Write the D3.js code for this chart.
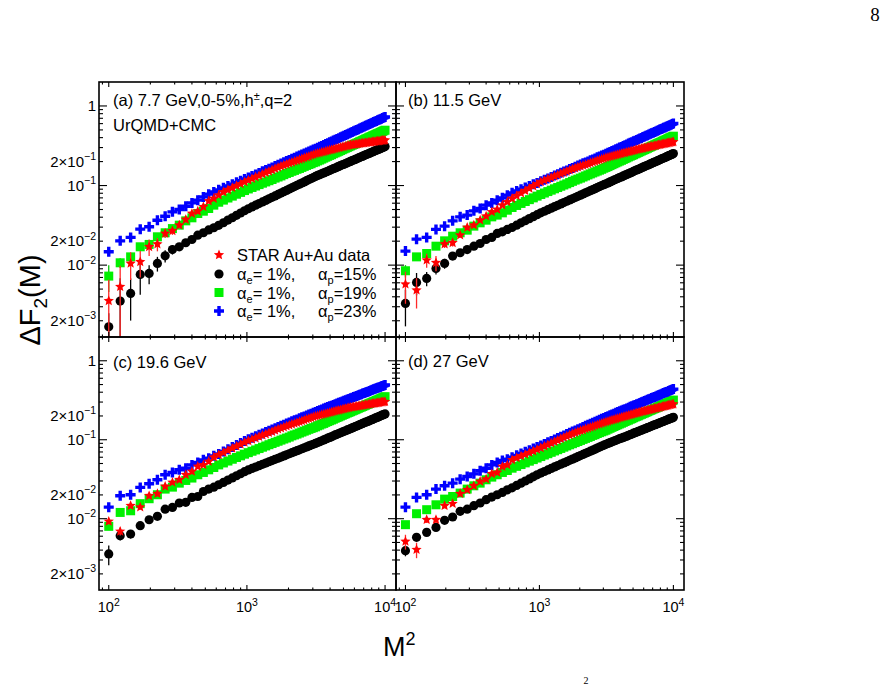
<!DOCTYPE html>
<html>
<head>
<meta charset="utf-8">
<script src="https://cdnjs.cloudflare.com/ajax/libs/d3/7.8.5/d3.min.js"></script>
<style>
  body { margin: 0; background: #fff; }
  svg { display: block; font-family: "Liberation Sans", Arial, Helvetica, sans-serif; }
</style>
</head>
<body>
<div id="chart-area"></div>
<script>
// One point per multiplicity bin M = 10..100, plotted against M^2
const mValues = d3.range(10, 101);

// ---- (a) 7.7 GeV ----
const starA = [
  0.00356, 0.00535, 0.0105, 0.0110, 0.0170, 0.0184, 0.025, 0.027, 0.0318, 0.0374,
  0.0445, 0.0476, 0.054, 0.064, 0.0687, 0.0757, 0.083, 0.0885, 0.0938, 0.0995,
  0.105, 0.111, 0.117, 0.122, 0.128, 0.133, 0.139, 0.145, 0.151, 0.157,
  0.163, 0.169, 0.175, 0.180, 0.185, 0.191, 0.196, 0.201, 0.206, 0.212,
  0.217, 0.222, 0.228, 0.233, 0.239, 0.244, 0.250, 0.254, 0.258, 0.262,
  0.265, 0.270, 0.274, 0.278, 0.281, 0.285, 0.289, 0.293, 0.297, 0.301,
  0.305, 0.308, 0.313, 0.316, 0.320, 0.324, 0.326, 0.327, 0.330, 0.332,
  0.333, 0.336, 0.338, 0.340, 0.342, 0.344, 0.346, 0.348, 0.349, 0.352,
  0.353, 0.355, 0.357, 0.359, 0.361, 0.362, 0.365, 0.366, 0.368, 0.370,
  0.372];
const p15A = [
  0.00168, 0.00353, 0.00441, 0.00764, 0.00787, 0.0105, 0.0131, 0.0157, 0.0170, 0.0191,
  0.0210, 0.0238, 0.0255, 0.0277, 0.0295, 0.0316, 0.0341, 0.0368, 0.0394, 0.0423,
  0.0452, 0.0482, 0.0511, 0.0538, 0.0566, 0.0593, 0.0622, 0.065, 0.0681, 0.0711,
  0.0741, 0.0773, 0.0804, 0.0838, 0.0869, 0.0902, 0.0938, 0.097, 0.1005, 0.104,
  0.1076, 0.111, 0.115, 0.119, 0.1225, 0.126, 0.130, 0.134, 0.137, 0.141,
  0.144, 0.148, 0.151, 0.155, 0.159, 0.163, 0.166, 0.170, 0.174, 0.178,
  0.182, 0.185, 0.189, 0.193, 0.197, 0.201, 0.206, 0.209, 0.213, 0.217,
  0.222, 0.226, 0.230, 0.234, 0.238, 0.243, 0.247, 0.251, 0.255, 0.260,
  0.264, 0.269, 0.273, 0.277, 0.282, 0.286, 0.291, 0.296, 0.300, 0.304,
  0.309];
const p19A = [
  0.00728, 0.0107, 0.0127, 0.0170, 0.0182, 0.0227, 0.0255, 0.0288, 0.0318, 0.036,
  0.0393, 0.0445, 0.0476, 0.0515, 0.0567, 0.0617, 0.0656, 0.0697, 0.0736, 0.0778,
  0.082, 0.0865, 0.0906, 0.0946, 0.0986, 0.1028, 0.107, 0.111, 0.115, 0.119,
  0.124, 0.128, 0.132, 0.137, 0.142, 0.146, 0.151, 0.155, 0.160, 0.164,
  0.169, 0.174, 0.179, 0.184, 0.188, 0.194, 0.198, 0.204, 0.209, 0.215,
  0.221, 0.227, 0.233, 0.239, 0.244, 0.251, 0.257, 0.263, 0.269, 0.276,
  0.282, 0.289, 0.295, 0.301, 0.308, 0.315, 0.321, 0.328, 0.335, 0.341,
  0.348, 0.356, 0.362, 0.369, 0.377, 0.384, 0.391, 0.398, 0.406, 0.412,
  0.420, 0.427, 0.435, 0.442, 0.449, 0.456, 0.465, 0.472, 0.480, 0.488,
  0.496];
const p23A = [
  0.0147, 0.0202, 0.0223, 0.0283, 0.0303, 0.0367, 0.0412, 0.0467, 0.050, 0.055,
  0.0605, 0.0655, 0.072, 0.078, 0.083, 0.0883, 0.0935, 0.0989, 0.104, 0.1096,
  0.115, 0.121, 0.126, 0.132, 0.138, 0.144, 0.151, 0.157, 0.163, 0.169,
  0.176, 0.183, 0.189, 0.196, 0.203, 0.209, 0.217, 0.223, 0.231, 0.238,
  0.245, 0.252, 0.260, 0.267, 0.275, 0.283, 0.290, 0.299, 0.307, 0.315,
  0.323, 0.332, 0.340, 0.349, 0.358, 0.367, 0.376, 0.385, 0.394, 0.404,
  0.413, 0.423, 0.433, 0.442, 0.451, 0.460, 0.471, 0.481, 0.490, 0.500,
  0.511, 0.521, 0.531, 0.541, 0.552, 0.562, 0.573, 0.583, 0.594, 0.605,
  0.615, 0.627, 0.638, 0.649, 0.659, 0.670, 0.682, 0.693, 0.705, 0.716,
  0.728];
// errors are only visible on the lowest-M bins
const starErrA = [0.003, 0.0045, 0.004, 0.004, 0.004, 0.0035, 0.003, 0.003, 0.003, 0.003, 0.003, 0.003, 0.003, 0.003];
const p15ErrA = [0.0008, 0.0033, 0.0024, 0.0034, 0.0021, 0.0022, 0.0023, 0.0021, 0.002, 0.002, 0.002, 0.002, 0.002];
const p19ErrA = [0.0027, 0.0015, 0.0012, 0.001, 0.001];

// ---- (b) 11.5 GeV ----
const starB = [
  0.00577, 0.00485, 0.01155, 0.0107, 0.0184, 0.0191, 0.0238, 0.0297, 0.0318, 0.0367,
  0.0412, 0.0467, 0.050, 0.0567, 0.0623, 0.0687, 0.0743, 0.0802, 0.0861, 0.0923,
  0.0986, 0.105, 0.111, 0.116, 0.121, 0.126, 0.131, 0.1355, 0.141, 0.146,
  0.151, 0.156, 0.161, 0.166, 0.170, 0.175, 0.179, 0.183, 0.1875, 0.192,
  0.197, 0.201, 0.206, 0.210, 0.215, 0.219, 0.224, 0.2275, 0.231, 0.234,
  0.238, 0.2415, 0.245, 0.248, 0.251, 0.255, 0.258, 0.262, 0.265, 0.2685,
  0.272, 0.275, 0.279, 0.282, 0.285, 0.288, 0.291, 0.294, 0.2965, 0.299,
  0.302, 0.305, 0.308, 0.310, 0.313, 0.315, 0.318, 0.321, 0.324, 0.326,
  0.328, 0.331, 0.333, 0.336, 0.338, 0.340, 0.344, 0.346, 0.348, 0.351,
  0.353];
const p15B = [
  0.0033, 0.00607, 0.00681, 0.0091, 0.0105, 0.0130, 0.0143, 0.0157, 0.0173, 0.0187,
  0.0210, 0.0223, 0.0250, 0.0262, 0.0281, 0.0297, 0.0318, 0.0340, 0.0361, 0.0384,
  0.0406, 0.0431, 0.0454, 0.0475, 0.0497, 0.0519, 0.0542, 0.0564, 0.0588, 0.0611,
  0.0635, 0.0659, 0.0682, 0.0708, 0.0733, 0.0757, 0.0783, 0.0809, 0.0834, 0.0861,
  0.0887, 0.0914, 0.0942, 0.097, 0.0998, 0.1026, 0.105, 0.108, 0.111, 0.114,
  0.117, 0.120, 0.123, 0.126, 0.1285, 0.132, 0.135, 0.138, 0.141, 0.144,
  0.147, 0.151, 0.154, 0.157, 0.160, 0.163, 0.167, 0.170, 0.173, 0.177,
  0.180, 0.183, 0.187, 0.190, 0.194, 0.197, 0.200, 0.204, 0.2075, 0.211,
  0.215, 0.218, 0.222, 0.225, 0.229, 0.233, 0.237, 0.240, 0.244, 0.248,
  0.252];
const p19B = [
  0.0085, 0.0127, 0.0140, 0.0173, 0.0202, 0.0231, 0.0255, 0.0275, 0.0309, 0.034,
  0.0367, 0.0404, 0.0425, 0.0454, 0.049, 0.053, 0.0562, 0.0596, 0.063, 0.0665,
  0.070, 0.0736, 0.0771, 0.0805, 0.084, 0.0875, 0.091, 0.0944, 0.098, 0.1016,
  0.105, 0.109, 0.113, 0.117, 0.1205, 0.124, 0.128, 0.132, 0.136, 0.140,
  0.144, 0.148, 0.152, 0.156, 0.160, 0.165, 0.169, 0.173, 0.178, 0.183,
  0.188, 0.193, 0.198, 0.203, 0.2075, 0.213, 0.218, 0.223, 0.229, 0.234,
  0.239, 0.244, 0.250, 0.255, 0.261, 0.266, 0.272, 0.277, 0.283, 0.288,
  0.294, 0.300, 0.306, 0.312, 0.318, 0.324, 0.330, 0.336, 0.341, 0.348,
  0.353, 0.360, 0.366, 0.372, 0.378, 0.385, 0.392, 0.398, 0.404, 0.410,
  0.417];
const p23B = [
  0.0150, 0.0212, 0.0223, 0.0281, 0.0309, 0.0360, 0.0404, 0.0425, 0.0481, 0.0515,
  0.0567, 0.0605, 0.0655, 0.070, 0.0757, 0.081, 0.0853, 0.0897, 0.0942, 0.0989,
  0.1035, 0.108, 0.113, 0.118, 0.123, 0.1285, 0.134, 0.139, 0.1445, 0.150,
  0.155, 0.161, 0.166, 0.172, 0.178, 0.184, 0.190, 0.195, 0.201, 0.2075,
  0.213, 0.219, 0.226, 0.232, 0.238, 0.244, 0.251, 0.258, 0.264, 0.272,
  0.278, 0.286, 0.292, 0.300, 0.306, 0.314, 0.321, 0.329, 0.337, 0.344,
  0.351, 0.359, 0.366, 0.374, 0.381, 0.389, 0.397, 0.406, 0.413, 0.421,
  0.430, 0.4375, 0.446, 0.454, 0.462, 0.471, 0.479, 0.488, 0.496, 0.505,
  0.513, 0.521, 0.531, 0.538, 0.547, 0.556, 0.566, 0.574, 0.582, 0.592,
  0.601];
const starErrB = [0.0025, 0.002, 0.0023, 0.0023, 0.002, 0.002, 0.0015, 0.0015];
const p15ErrB = [0.0016, 0.0019, 0.0014, 0.0015, 0.0015, 0.001, 0.001];
const p19ErrB = [0.0015, 0.001];

// ---- (c) 19.6 GeV ----
const starC = [
  0.00925, 0.00691, 0.0146, 0.0140, 0.0195, 0.0207, 0.0256, 0.0288, 0.0311, 0.036,
  0.0396, 0.0458, 0.048, 0.053, 0.060, 0.0644, 0.0687, 0.0733, 0.0778, 0.0826,
  0.0873, 0.0925, 0.097, 0.101, 0.105, 0.1096, 0.114, 0.118, 0.1227, 0.127,
  0.1315, 0.136, 0.140, 0.1445, 0.1486, 0.153, 0.157, 0.161, 0.165, 0.169,
  0.173, 0.177, 0.182, 0.186, 0.190, 0.1945, 0.199, 0.202, 0.205, 0.208,
  0.211, 0.214, 0.217, 0.221, 0.223, 0.2265, 0.230, 0.233, 0.236, 0.239,
  0.242, 0.245, 0.248, 0.251, 0.254, 0.257, 0.259, 0.261, 0.263, 0.265,
  0.267, 0.2685, 0.270, 0.272, 0.274, 0.276, 0.278, 0.280, 0.282, 0.284,
  0.286, 0.288, 0.289, 0.291, 0.292, 0.294, 0.2965, 0.2985, 0.300, 0.301,
  0.303];
const p15C = [
  0.00358, 0.0061, 0.0064, 0.00816, 0.0097, 0.0107, 0.0132, 0.0139, 0.0158, 0.0161,
  0.0186, 0.0191, 0.0221, 0.0237, 0.0251, 0.0269, 0.0288, 0.0308, 0.0328, 0.035,
  0.0371, 0.0394, 0.0414, 0.0433, 0.0451, 0.0469, 0.0488, 0.0506, 0.0526, 0.0545,
  0.0564, 0.0583, 0.0603, 0.0624, 0.0644, 0.0664, 0.0686, 0.0705, 0.0726, 0.0746,
  0.0769, 0.0789, 0.0811, 0.0834, 0.0855, 0.0877, 0.0897, 0.0923, 0.0946, 0.097,
  0.0993, 0.102, 0.1045, 0.107, 0.109, 0.112, 0.115, 0.117, 0.120, 0.1225,
  0.125, 0.128, 0.130, 0.133, 0.1355, 0.138, 0.141, 0.144, 0.1466, 0.149,
  0.152, 0.155, 0.158, 0.161, 0.164, 0.167, 0.169, 0.172, 0.175, 0.178,
  0.181, 0.184, 0.1875, 0.190, 0.193, 0.196, 0.1995, 0.203, 0.206, 0.208,
  0.212];
const p19C = [
  0.0080, 0.0120, 0.0126, 0.0155, 0.0179, 0.0201, 0.0237, 0.0251, 0.0282, 0.0305,
  0.0327, 0.036, 0.0385, 0.0416, 0.0445, 0.048, 0.0508, 0.0537, 0.0566, 0.0596,
  0.0625, 0.0656, 0.0686, 0.0715, 0.0743, 0.0773, 0.0804, 0.0834, 0.0865, 0.0895,
  0.0927, 0.0957, 0.0989, 0.102, 0.105, 0.108, 0.112, 0.115, 0.118, 0.1216,
  0.125, 0.1285, 0.132, 0.1355, 0.139, 0.142, 0.1455, 0.150, 0.1535, 0.158,
  0.161, 0.166, 0.170, 0.174, 0.178, 0.182, 0.187, 0.191, 0.195, 0.200,
  0.204, 0.209, 0.213, 0.218, 0.222, 0.2265, 0.231, 0.236, 0.240, 0.245,
  0.250, 0.255, 0.259, 0.264, 0.269, 0.274, 0.279, 0.284, 0.289, 0.294,
  0.2985, 0.304, 0.309, 0.314, 0.319, 0.324, 0.330, 0.335, 0.340, 0.345,
  0.351];
const p23C = [
  0.0140, 0.0195, 0.0201, 0.0249, 0.0277, 0.0311, 0.036, 0.0385, 0.0416, 0.0436,
  0.048, 0.0514, 0.0556, 0.0584, 0.0625, 0.0662, 0.071, 0.0759, 0.0807, 0.0859,
  0.0912, 0.0966, 0.1016, 0.106, 0.111, 0.116, 0.120, 0.125, 0.130, 0.135,
  0.140, 0.145, 0.150, 0.155, 0.160, 0.165, 0.171, 0.176, 0.181, 0.187,
  0.192, 0.197, 0.203, 0.209, 0.214, 0.220, 0.225, 0.231, 0.237, 0.242,
  0.248, 0.2535, 0.259, 0.265, 0.270, 0.276, 0.282, 0.287, 0.293, 0.299,
  0.305, 0.311, 0.317, 0.323, 0.328, 0.334, 0.340, 0.347, 0.352, 0.359,
  0.365, 0.3715, 0.378, 0.384, 0.390, 0.396, 0.403, 0.408, 0.415, 0.422,
  0.428, 0.4345, 0.442, 0.448, 0.454, 0.460, 0.467, 0.474, 0.480, 0.486,
  0.493];
const starErrC = [0.0008, 0.0008, 0.001, 0.001, 0.001, 0.001];
const p15ErrC = [0.001, 0.0008, 0.0008, 0.0008];
const p19ErrC = [0.0006];

// ---- (d) 27 GeV ----
const starD = [
  0.00516, 0.00406, 0.0097, 0.0097, 0.0146, 0.0155, 0.0207, 0.0232, 0.0261, 0.0296,
  0.0317, 0.037, 0.0385, 0.0458, 0.048, 0.0556, 0.0588, 0.0621, 0.0653, 0.0687,
  0.0719, 0.0755, 0.0791, 0.0828, 0.0867, 0.0906, 0.0946, 0.0984, 0.103, 0.107,
  0.111, 0.115, 0.119, 0.123, 0.1265, 0.130, 0.133, 0.137, 0.140, 0.1435,
  0.147, 0.151, 0.154, 0.158, 0.161, 0.165, 0.168, 0.171, 0.174, 0.1774,
  0.180, 0.183, 0.186, 0.189, 0.192, 0.195, 0.198, 0.200, 0.204, 0.2065,
  0.209, 0.212, 0.215, 0.218, 0.221, 0.224, 0.2265, 0.2286, 0.231, 0.233,
  0.2355, 0.238, 0.240, 0.243, 0.2455, 0.248, 0.250, 0.252, 0.255, 0.257,
  0.259, 0.262, 0.264, 0.267, 0.2685, 0.271, 0.2735, 0.276, 0.278, 0.280,
  0.2825];
const p15D = [
  0.00394, 0.00581, 0.00671, 0.00776, 0.00953, 0.0105, 0.0124, 0.0132, 0.0146, 0.0158,
  0.0174, 0.0188, 0.0201, 0.0215, 0.0232, 0.0246, 0.0264, 0.0282, 0.030, 0.0319,
  0.0339, 0.0359, 0.0378, 0.0396, 0.0414, 0.0433, 0.0452, 0.047, 0.049, 0.0508,
  0.0528, 0.0548, 0.0568, 0.0589, 0.061, 0.063, 0.0652, 0.0673, 0.0693, 0.0716,
  0.0738, 0.076, 0.0783, 0.0807, 0.083, 0.0853, 0.0875, 0.0897, 0.0918, 0.094,
  0.0962, 0.0984, 0.1005, 0.103, 0.1047, 0.107, 0.109, 0.111, 0.114, 0.116,
  0.118, 0.121, 0.123, 0.125, 0.1276, 0.130, 0.132, 0.1346, 0.137, 0.139,
  0.142, 0.144, 0.1466, 0.149, 0.152, 0.154, 0.156, 0.159, 0.161, 0.164,
  0.166, 0.169, 0.171, 0.174, 0.1766, 0.179, 0.182, 0.184, 0.1866, 0.189,
  0.192];
const p19D = [
  0.0084, 0.01156, 0.0130, 0.0150, 0.0177, 0.0191, 0.0211, 0.0237, 0.0261, 0.0282,
  0.0311, 0.0336, 0.036, 0.0385, 0.0408, 0.0436, 0.046, 0.0485, 0.0509, 0.0535,
  0.056, 0.0586, 0.0612, 0.064, 0.0665, 0.0693, 0.0721, 0.0748, 0.0776, 0.0805,
  0.0834, 0.0863, 0.0891, 0.092, 0.095, 0.098, 0.101, 0.104, 0.107, 0.110,
  0.1135, 0.116, 0.120, 0.123, 0.126, 0.129, 0.132, 0.136, 0.1396, 0.1435,
  0.147, 0.151, 0.1545, 0.1585, 0.162, 0.166, 0.170, 0.174, 0.1774, 0.182,
  0.185, 0.190, 0.194, 0.198, 0.201, 0.206, 0.210, 0.214, 0.218, 0.222,
  0.2265, 0.231, 0.2355, 0.239, 0.244, 0.248, 0.252, 0.257, 0.261, 0.266,
  0.270, 0.275, 0.280, 0.284, 0.288, 0.293, 0.2985, 0.303, 0.307, 0.312,
  0.318];
const p23D = [
  0.0140, 0.0186, 0.0201, 0.0237, 0.0261, 0.0282, 0.0317, 0.0342, 0.037, 0.0404,
  0.0436, 0.048, 0.0514, 0.0546, 0.0568, 0.060, 0.0634, 0.0668, 0.0703, 0.0738,
  0.0773, 0.0809, 0.0845, 0.0885, 0.0927, 0.0966, 0.101, 0.105, 0.109, 0.1135,
  0.118, 0.1225, 0.127, 0.131, 0.136, 0.140, 0.145, 0.150, 0.1545, 0.159,
  0.164, 0.169, 0.174, 0.179, 0.184, 0.189, 0.194, 0.199, 0.204, 0.209,
  0.214, 0.219, 0.224, 0.229, 0.234, 0.239, 0.244, 0.2495, 0.255, 0.261,
  0.2655, 0.271, 0.276, 0.282, 0.286, 0.292, 0.298, 0.303, 0.309, 0.314,
  0.320, 0.326, 0.331, 0.3365, 0.343, 0.348, 0.354, 0.360, 0.366, 0.3715,
  0.378, 0.384, 0.390, 0.395, 0.401, 0.406, 0.413, 0.420, 0.425, 0.4315,
  0.4375];
const starErrD = [0.0011, 0.0009, 0.0009, 0.0009, 0.001, 0.001];
const p15ErrD = [0.0006, 0.0005];

// axis tick labels
const yTickLabels = [
  {v: 1, base: "1", exp: ""},
  {v: 0.2, base: "2\u00d710", exp: "\u22121"},
  {v: 0.1, base: "10", exp: "\u22121"},
  {v: 0.02, base: "2\u00d710", exp: "\u22122"},
  {v: 0.01, base: "10", exp: "\u22122"},
  {v: 0.002, base: "2\u00d710", exp: "\u22123"}
];
const xTickLabels = [{v: 100, exp: "2"}, {v: 1000, exp: "3"}, {v: 10000, exp: "4"}];

let width = 886, height = 689;
let xDomain = [85, 12000];
let yDomain = [1.25e-3, 2];

let svg = d3.select("#chart-area").append("svg")
    .attr("width", width)
    .attr("height", height);

// marker shapes (ROOT-like)
function starPath(r) {
    let pts = [];
    for (let k = 0; k < 10; k++) {
        let a = -Math.PI / 2 + k * Math.PI / 5;
        let rr = k % 2 === 0 ? r : r * 0.45;
        pts.push([rr * Math.cos(a), rr * Math.sin(a)]);
    }
    return "M" + pts.map(p => p[0].toFixed(2) + "," + p[1].toFixed(2)).join("L") + "Z";
}
function crossPath(s, w) {
    return `M${-w},${-s}H${w}V${-w}H${s}V${w}H${w}V${s}H${-w}V${w}H${-s}V${-w}H${-w}Z`;
}
const shapes = {
    circle: d3.symbol().type(d3.symbolCircle).size(Math.PI * 4.6 * 4.6)(),
    square: "M-4.5,-4.5H4.5V4.5H-4.5Z",
    cross: crossPath(5, 1.7),
    star: starPath(5.4)
};

function makeSeries(star, p15, p19, p23, starErr, p15Err, p19Err) {
    return [
        {values: p15, err: p15Err, shape: shapes.circle, color: "#000", errColor: "#000"},
        {values: p19, err: p19Err, shape: shapes.square, color: "#00f000", errColor: "#00c000"},
        {values: p23, err: [], shape: shapes.cross, color: "#0000ff", errColor: "#0000ff"},
        {values: star, err: starErr, shape: shapes.star, color: "#ff0000", errColor: "#ff2a2a"}
    ];
}

const cols = [{x0: 99, x1: 396}, {x0: 396, x1: 684}];
const rows = [{y0: 82, y1: 337}, {y0: 337, y1: 590}];

const panels = [
    {col: 0, row: 0, series: makeSeries(starA, p15A, p19A, p23A, starErrA, p15ErrA, p19ErrA)},
    {col: 1, row: 0, series: makeSeries(starB, p15B, p19B, p23B, starErrB, p15ErrB, p19ErrB)},
    {col: 0, row: 1, series: makeSeries(starC, p15C, p19C, p23C, starErrC, p15ErrC, p19ErrC)},
    {col: 1, row: 1, series: makeSeries(starD, p15D, p19D, p23D, starErrD, p15ErrD, [])}
];

panels.forEach((p, i) => {
    let c = cols[p.col], r = rows[p.row];
    let x = d3.scaleLog().domain(xDomain).range([c.x0, c.x1]);
    let y = d3.scaleLog().domain(yDomain).range([r.y1, r.y0]);

    svg.append("clipPath").attr("id", "clip" + i)
        .append("rect")
        .attr("x", c.x0).attr("y", r.y0)
        .attr("width", c.x1 - c.x0).attr("height", r.y1 - r.y0);

    let plot = svg.append("g").attr("clip-path", "url(#clip" + i + ")");

    p.series.forEach(s => {
        plot.selectAll(null)
            .data(s.err)
            .enter()
            .append("line")
            .attr("x1", (e, j) => x(mValues[j] * mValues[j]))
            .attr("x2", (e, j) => x(mValues[j] * mValues[j]))
            .attr("y1", (e, j) => y(Math.max(s.values[j] - e, 1e-5)))
            .attr("y2", (e, j) => y(s.values[j] + e))
            .attr("stroke", s.errColor)
            .attr("stroke-width", 1.3);

        plot.selectAll(null)
            .data(s.values)
            .enter()
            .append("path")
            .attr("d", s.shape)
            .attr("transform", (v, j) => "translate(" + x(mValues[j] * mValues[j]) + "," + y(v) + ")")
            .attr("fill", s.color);
    });

    // ticks on all four sides
    let ticks = svg.append("g").attr("stroke", "#000").attr("stroke-width", 1.1);
    let yMajor = [0.01, 0.1, 1];
    let yMinor = [];
    [0.001, 0.01, 0.1, 1].forEach(d => {
        for (let k = 2; k <= 9; k++) {
            let v = k * d;
            if (v > yDomain[0] && v < yDomain[1]) yMinor.push(v);
        }
    });
    yMajor.forEach(v => {
        ticks.append("line").attr("x1", c.x0).attr("x2", c.x0 + 8).attr("y1", y(v)).attr("y2", y(v));
        ticks.append("line").attr("x1", c.x1).attr("x2", c.x1 - 8).attr("y1", y(v)).attr("y2", y(v));
    });
    yMinor.forEach(v => {
        ticks.append("line").attr("x1", c.x0).attr("x2", c.x0 + 4).attr("y1", y(v)).attr("y2", y(v));
        ticks.append("line").attr("x1", c.x1).attr("x2", c.x1 - 4).attr("y1", y(v)).attr("y2", y(v));
    });
    let xMajor = [100, 1000, 10000];
    let xMinor = [];
    [10, 100, 1000].forEach(d => {
        for (let k = 2; k <= 9; k++) {
            let v = k * d;
            if (v > xDomain[0] && v < xDomain[1]) xMinor.push(v);
        }
    });
    xMajor.forEach(v => {
        ticks.append("line").attr("x1", x(v)).attr("x2", x(v)).attr("y1", r.y1).attr("y2", r.y1 - 5);
        ticks.append("line").attr("x1", x(v)).attr("x2", x(v)).attr("y1", r.y0).attr("y2", r.y0 + 5);
    });
    xMinor.forEach(v => {
        ticks.append("line").attr("x1", x(v)).attr("x2", x(v)).attr("y1", r.y1).attr("y2", r.y1 - 2.5);
        ticks.append("line").attr("x1", x(v)).attr("x2", x(v)).attr("y1", r.y0).attr("y2", r.y0 + 2.5);
    });

    // frame
    svg.append("rect")
        .attr("x", c.x0).attr("y", r.y0)
        .attr("width", c.x1 - c.x0).attr("height", r.y1 - r.y0)
        .attr("fill", "none")
        .attr("stroke", "#000")
        .attr("stroke-width", 1.6);

    // y tick labels on the left column only
    if (p.col === 0) {
        yTickLabels.forEach(t => {
            let txt = svg.append("text")
                .attr("x", 96)
                .attr("y", y(t.v) + 5)
                .attr("text-anchor", "end")
                .style("font-size", "15px")
                .text(t.base);
            if (t.exp) {
                txt.append("tspan").attr("dy", -6.5).style("font-size", "10.5px").text(t.exp);
            }
        });
    }
    // x tick labels on the bottom row only
    if (p.row === 1) {
        xTickLabels.forEach(t => {
            let txt = svg.append("text")
                .attr("x", x(t.v))
                .attr("y", 612)
                .attr("text-anchor", "middle")
                .style("font-size", "14.5px")
                .text("10");
            txt.append("tspan").attr("dy", -6.5).style("font-size", "10.5px").text(t.exp);
        });
    }
});

// panel labels
let lab = svg.append("text").attr("x", 113).attr("y", 106).style("font-size", "16.5px")
    .text("(a) 7.7 GeV,0-5%,h");
lab.append("tspan").attr("dy", -6).style("font-size", "11px").text("\u00b1");
lab.append("tspan").attr("dy", 6).text(",q=2");
svg.append("text").attr("x", 113).attr("y", 131).style("font-size", "16.5px").text("UrQMD+CMC");
svg.append("text").attr("x", 408).attr("y", 105.5).style("font-size", "16.5px").text("(b) 11.5 GeV");
svg.append("text").attr("x", 113).attr("y", 367.5).style("font-size", "16.5px").text("(c) 19.6 GeV");
svg.append("text").attr("x", 408).attr("y", 367).style("font-size", "16.5px").text("(d) 27 GeV");

// legend (panel a)
const legendItems = [
    {shape: shapes.star, color: "#ff0000", text: "STAR Au+Au data"},
    {shape: shapes.circle, color: "#000", sub1: "e", val1: "= 1%,", sub2: "p", val2: "=15%"},
    {shape: shapes.square, color: "#00f000", sub1: "e", val1: "= 1%,", sub2: "p", val2: "=19%"},
    {shape: shapes.cross, color: "#0000ff", sub1: "e", val1: "= 1%,", sub2: "p", val2: "=23%"}
];
let legendY = [255, 274, 292.5, 311];
legendItems.forEach((d, i) => {
    svg.append("path").attr("d", d.shape).attr("fill", d.color)
        .attr("transform", "translate(219," + legendY[i] + ")");
    let t = svg.append("text").attr("x", 237).attr("y", legendY[i] + 6).style("font-size", "16.5px");
    if (d.text) {
        t.text(d.text);
    } else {
        t.append("tspan").text("\u03b1");
        t.append("tspan").attr("dy", 4).style("font-size", "11px").text(d.sub1);
        t.append("tspan").attr("dy", -4).text(d.val1);
        t.append("tspan").attr("x", 318).text("\u03b1");
        t.append("tspan").attr("dy", 4).style("font-size", "11px").text(d.sub2);
        t.append("tspan").attr("dy", -4).text(d.val2);
    }
});

// axis titles
let yt = svg.append("text")
    .attr("transform", "translate(40,300) rotate(-90)")
    .attr("text-anchor", "middle")
    .style("font-size", "29px")
    .text("\u0394F");
yt.append("tspan").attr("dy", 7).style("font-size", "19px").text("2");
yt.append("tspan").attr("dy", -7).text("(M)");

let xt = svg.append("text").attr("x", 383).attr("y", 656).style("font-size", "27px").text("M");
xt.append("tspan").attr("dy", -11).style("font-size", "18px").text("2");

// page furniture
svg.append("text").attr("x", 875).attr("y", 20.5).attr("text-anchor", "middle")
    .style("font-family", "'Liberation Serif', serif").style("font-size", "19px").text("8");
svg.append("text").attr("x", 586).attr("y", 684).attr("text-anchor", "middle")
    .style("font-family", "'Liberation Serif', serif").style("font-size", "10px").text("2");
</script>
</body>
</html>
